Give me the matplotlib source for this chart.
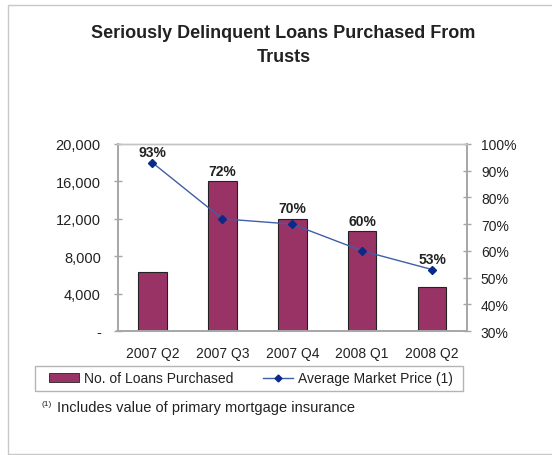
import matplotlib
matplotlib.use("Agg")
import matplotlib.pyplot as plt
from matplotlib.patches import Rectangle
from matplotlib.lines import Line2D
from matplotlib.ticker import FuncFormatter, FixedLocator

plt.rcParams["font.family"] = ["Liberation Sans", "DejaVu Sans"]

quarters = ["2007 Q2", "2007 Q3", "2007 Q4", "2008 Q1", "2008 Q2"]
loans_purchased = [6300, 16000, 12000, 10700, 4700]
avg_price_pct = [93, 72, 70, 60, 53]
price_labels = ["93%", "72%", "70%", "60%", "53%"]

title = "Seriously Delinquent Loans Purchased From\nTrusts"
bar_color = "#993366"
line_color = "#3f5ea8"
marker_color = "#0a2a8a"
axis_gray = "#a6a6a6"
text_color = "#222222"

W, H = 552, 456
fig = plt.figure(figsize=(W / 100, H / 100), dpi=100)
fig.patch.set_facecolor("white")


def fx(px):
    return px / W


def fy(py):
    return 1 - py / H


# outer chart frame
fig.add_artist(Rectangle((fx(8), fy(455)), fx(600), 449 / H,
                         transform=fig.transFigure, fill=False,
                         edgecolor="#c8c8c8", linewidth=1.0))

ax = fig.add_axes([fx(117.5), fy(332), (467 - 117.5) / W, (332 - 145) / H])
ax2 = ax.twinx()

x = list(range(len(quarters)))
ax.bar(x, loans_purchased, width=0.41, color=bar_color, edgecolor="#222222",
       linewidth=0.8, zorder=2)
ax.set_xlim(-0.5, len(quarters) - 0.5)
ax.set_ylim(0, 20000)
ax.yaxis.set_major_locator(FixedLocator([0, 4000, 8000, 12000, 16000, 20000]))
ax.yaxis.set_major_formatter(FuncFormatter(lambda v, p: "-" if v == 0 else f"{int(v):,}"))
ax.set_xticks(x)
ax.set_xticklabels(quarters)

ax2.plot(x, avg_price_pct, color=line_color, linewidth=1.0, marker="D",
         markersize=4, markerfacecolor=marker_color, markeredgecolor=marker_color,
         zorder=3)
ax2.set_ylim(30, 100)
ax2.yaxis.set_major_locator(FixedLocator(list(range(30, 101, 10))))
ax2.yaxis.set_major_formatter(FuncFormatter(lambda v, p: f"{int(v)}%"))

for a in (ax, ax2):
    a.set_facecolor("none")
    for s in ("left", "right", "bottom"):
        a.spines[s].set_color(axis_gray)
        a.spines[s].set_linewidth(1.2)
    a.spines["top"].set_color("#c4c4c4")
    a.spines["top"].set_linewidth(1.0)
    a.tick_params(axis="both", colors=axis_gray, labelcolor=text_color,
                  labelsize=10, length=6, direction="inout", width=1)
ax.tick_params(axis="x", length=0, pad=11)
ax2.tick_params(axis="x", length=0)
ax.tick_params(axis="y", pad=9, labelsize=10.5)
ax2.tick_params(axis="y", pad=7)
ax2.set_zorder(ax.get_zorder() + 1)

# price labels sit above whichever is higher: the bar or the marker
for i, (n, p, lab) in enumerate(zip(loans_purchased, avg_price_pct, price_labels)):
    frac = max(n / 20000, (p - 30) / 70)
    ax2.annotate(lab, xy=(i, frac), xycoords=("data", "axes fraction"),
                 xytext=(0, 7.5), textcoords="offset points", ha="center",
                 va="center", fontsize=10, fontweight="bold", color=text_color)

fig.text(fx(283.5), fy(45.5), title, ha="center", va="center", fontsize=13,
         fontweight="bold", color=text_color, linespacing=1.5)

# legend frame drawn separately, entries placed inside it
fig.add_artist(Rectangle((fx(35), fy(392)), fx(463 - 35), 25 / H,
                         transform=fig.transFigure, fill=False,
                         edgecolor="#b4b4b4", linewidth=1.0))
handles = [Rectangle((0, 0), 1, 1, facecolor=bar_color, edgecolor="#222222", linewidth=0.6),
           Line2D([0], [0], color=line_color, linewidth=1.0, marker="D", markersize=3.5,
                  markerfacecolor=marker_color, markeredgecolor=marker_color)]
leg = fig.legend(handles, ["No. of Loans Purchased", "Average Market Price (1)"],
                 loc="center", bbox_to_anchor=(fx(251), fy(379.5)), ncol=2,
                 fontsize=10, frameon=False, handlelength=2.16, handleheight=0.6,
                 columnspacing=2.16, handletextpad=0.36, borderpad=0,
                 borderaxespad=0)
for t in leg.get_texts():
    t.set_color(text_color)

fig.text(fx(41), fy(405), "(1)", fontsize=6, color=text_color, va="center")
fig.text(fx(57), fy(408), "Includes value of primary mortgage insurance",
         fontsize=10.5, color=text_color, va="center")

fig.savefig("out.png", dpi=100, facecolor="white")
